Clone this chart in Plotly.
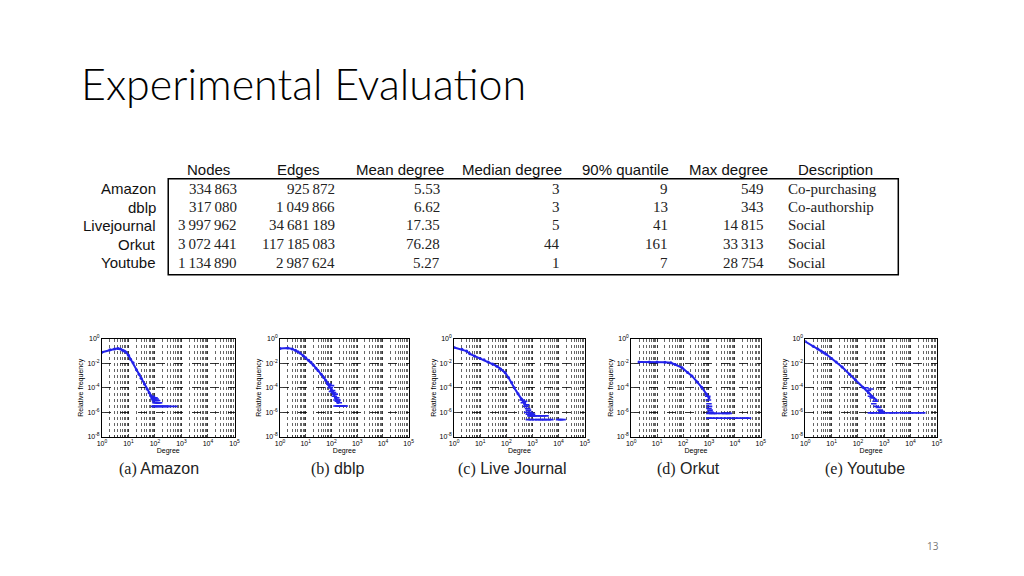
import plotly.graph_objects as go

W, H = 1024, 576

# ---- table data ----
datasets = ["Amazon", "dblp", "Livejournal", "Orkut", "Youtube"]
nodes = [334863, 317080, 3997962, 3072441, 1134890]
edges = [925872, 1049866, 34681189, 117185083, 2987624]
mean_degree = [5.53, 6.62, 17.35, 76.28, 5.27]
median_degree = [3, 3, 5, 44, 1]
quantile_90 = [9, 13, 41, 161, 7]
max_degree = [549, 343, 14815, 33313, 28754]
description = ["Co-purchasing", "Co-authorship", "Social", "Social", "Social"]
headers = ["Nodes", "Edges", "Mean degree", "Median degree", "90% quantile", "Max degree", "Description"]

# ---- degree distributions ----
captions = ["(a)|Amazon", "(b)|dblp", "(c)|Live Journal", "(d)|Orkut", "(e)|Youtube"]

amazon_deg = [1, 2, 3, 4, 5, 6, 7, 8, 10, 12, 15, 20, 25, 30, 40, 50, 60, 70, 80, 90]
amazon_freq = [0.08, 0.13, 0.15, 0.16, 0.15, 0.12, 0.1, 0.085, 0.045, 0.022, 0.011, 3e-3, 1.3e-3, 6e-4, 2e-4, 8e-5, 4e-5, 2.2e-5, 1.4e-5, 9e-6]
amazon_tail_deg = [80, 85, 90, 95, 100, 100, 105, 110, 110, 115, 120, 125, 130, 140, 150, 90, 100, 110, 120, 140, 160, 180, 200, 230, 260, 300, 350, 549]
amazon_tail_freq = [2e-5, 1.5e-5, 1.2e-5, 9e-6, 1.5e-5, 6e-6, 9e-6, 1.2e-5, 6e-6, 9e-6, 6e-6, 9e-6, 6e-6, 6e-6, 6e-6, 3e-6, 3e-6, 3e-6, 3e-6, 3e-6, 3e-6, 3e-6, 3e-6, 3e-6, 3e-6, 3e-6, 3e-6, 3e-6]

dblp_deg = [1, 2, 3, 4, 5, 6, 8, 10, 13, 16, 20, 25, 30, 40, 50, 60, 70, 80, 100, 120, 150, 180]
dblp_freq = [0.16, 0.18, 0.15, 0.115, 0.09, 0.07, 0.042, 0.028, 0.018, 0.012, 7e-3, 4e-3, 2.6e-3, 1.3e-3, 7e-4, 4e-4, 2.5e-4, 1.6e-4, 7e-5, 3.2e-5, 1.5e-5, 6.3e-6]
dblp_tail_deg = [80, 90, 100, 100, 110, 120, 130, 140, 150, 160, 170, 180, 200, 150, 170, 190, 210, 240, 270, 300, 343]
dblp_tail_freq = [2e-4, 1e-4, 1.5e-4, 5e-5, 6e-5, 4e-5, 2e-5, 3e-5, 1e-5, 1.5e-5, 8e-6, 1e-5, 6e-6, 3.2e-6, 3.2e-6, 3.2e-6, 3.2e-6, 3.2e-6, 3.2e-6, 3.2e-6, 3.2e-6]

lj_deg = [1, 2, 3, 4, 6, 10, 14, 20, 30, 43, 60, 90, 120, 160, 200, 280, 380, 500]
lj_freq = [0.2, 0.14, 0.1, 0.06, 0.04, 0.025, 0.02, 0.013, 9e-3, 5.9e-3, 3.5e-3, 1.7e-3, 7e-4, 2.7e-4, 1e-4, 3.2e-5, 1.2e-5, 5e-6]
lj_tail_deg = [400, 450, 500, 550, 600, 650, 700, 800, 900, 1000, 600, 700, 800, 900, 1000, 1200, 1500, 2000, 2500, 3300,
               700, 900, 1200, 1600, 2000, 2500, 3000, 4000, 5000, 10000, 12000, 14815]
lj_tail_freq = [1e-5, 6e-6, 8e-6, 3e-6, 4e-6, 2e-6, 1.5e-6, 1e-6, 8e-7, 7e-7, 1e-6, 7e-7, 5e-7, 5e-7, 5e-7, 5e-7, 5e-7, 5e-7, 5e-7, 5e-7,
                2.5e-7, 2.5e-7, 2.5e-7, 2.5e-7, 2.5e-7, 2.5e-7, 2.5e-7, 2.5e-7, 2.5e-7, 2.5e-7, 2.5e-7, 2.5e-7]

orkut_deg = [2, 5, 10, 20, 34, 50, 91, 150, 220, 350, 525, 800, 1000]
orkut_freq = [0.013, 0.013, 0.013, 0.0125, 0.011, 8e-3, 4.4e-3, 1.8e-3, 9.3e-4, 3e-4, 1.1e-4, 3e-5, 1.5e-5]
orkut_tail_deg = [900, 950, 1000, 1000, 1050, 1100, 1150, 1200, 1000, 1300, 1600, 2000, 3000, 4000, 5000, 6000,
                  1000, 1300, 1800, 2500, 3500, 5000, 7000, 10000, 14000, 20000, 27000, 33313]
orkut_tail_freq = [2e-5, 1e-5, 5e-6, 2e-6, 3e-6, 1.5e-6, 1e-6, 1e-6, 8e-7, 8e-7, 8e-7, 8e-7, 8e-7, 8e-7, 8e-7, 8e-7,
                   3.3e-7, 3.3e-7, 3.3e-7, 3.3e-7, 3.3e-7, 3.3e-7, 3.3e-7, 3.3e-7, 3.3e-7, 3.3e-7, 3.3e-7, 3.3e-7]

yt_deg = [1, 2, 3, 4, 5, 6, 10, 15, 25, 48, 80, 155, 250, 490]
yt_freq = [0.6, 0.25, 0.15, 0.1, 0.075, 0.059, 0.025, 0.013, 5e-3, 1.3e-3, 4.5e-4, 1.1e-4, 4e-5, 1e-5]
yt_tail_deg = [200, 250, 300, 300, 350, 400, 450, 500, 600, 700, 800, 300, 400, 600, 800, 1000, 1500, 2000, 3000, 5000, 7000, 10000, 14000, 20000, 28754]
yt_tail_freq = [1e-4, 6e-5, 2e-5, 8e-5, 1.5e-5, 5e-6, 8e-6, 3e-6, 2.5e-6, 1.5e-6, 1.2e-6, 8.8e-7, 8.8e-7, 8.8e-7, 8.8e-7, 8.8e-7, 8.8e-7, 8.8e-7, 8.8e-7, 8.8e-7, 8.8e-7, 8.8e-7, 8.8e-7, 8.8e-7, 8.8e-7]

curves = [(amazon_deg, amazon_freq, amazon_tail_deg, amazon_tail_freq),
          (dblp_deg, dblp_freq, dblp_tail_deg, dblp_tail_freq),
          (lj_deg, lj_freq, lj_tail_deg, lj_tail_freq),
          (orkut_deg, orkut_freq, orkut_tail_deg, orkut_tail_freq),
          (yt_deg, yt_freq, yt_tail_deg, yt_tail_freq)]

# pixel boxes of the five small plots (left, right), shared top/bottom
plot_x = [(98, 232), (278, 408), (454, 586), (633, 764), (809, 942)]
plot_top, plot_bot = 339, 438
caption_x = [156, 336, 513, 691, 869]

BLUE = "rgb(35,35,235)"
SERIF = "Liberation Serif"
SANS = "Liberation Sans"

minor_ticks = [m * 10 ** k for k in range(5) for m in range(2, 10)]


def px(x):
    return x / W


def py(y):
    return 1 - y / H


def note(x, y, text, font, xanchor="center"):
    return dict(x=px(x), y=py(y), xref="paper", yref="paper", xanchor=xanchor, yanchor="middle",
                showarrow=False, text=text, font=font)


fig = go.Figure()
annotations = []
shapes = []

for i, (d, f, td, tf) in enumerate(curves):
    n = "" if i == 0 else str(i + 1)
    fig.add_trace(go.Scatter(x=d, y=f, mode="lines+markers", line=dict(color=BLUE, width=2),
                             marker=dict(color=BLUE, size=3), xaxis="x" + n, yaxis="y" + n, showlegend=False))
    fig.add_trace(go.Scatter(x=td, y=tf, mode="markers",
                             marker=dict(color=BLUE, size=4, symbol="line-ew-open", line=dict(color=BLUE, width=1.6)),
                             xaxis="x" + n, yaxis="y" + n, showlegend=False))
    x0, x1 = plot_x[i]
    tickf = dict(size=7, color="black", family=SANS)
    fig.layout["xaxis" + n] = dict(
        domain=[px(x0), px(x1)], anchor="y" + n, type="log", range=[0, 5],
        tickvals=[10 ** k for k in range(6)], ticktext=["10<sup>%d</sup>" % k for k in range(6)],
        tickfont=tickf, showline=True, linecolor="black", linewidth=1, mirror=True,
        ticks="inside", ticklen=3, showgrid=True, gridcolor="rgba(0,0,0,0.8)", griddash="dot", gridwidth=0.8,
        minor=dict(tickmode="array", tickvals=minor_ticks, showgrid=True, gridcolor="rgba(0,0,0,0.6)",
                   griddash="dot", gridwidth=0.7, ticks="inside", ticklen=2),
        title=dict(text="Degree", font=dict(size=7, family=SANS, color="black"), standoff=0),
        zeroline=False, fixedrange=True)
    fig.layout["yaxis" + n] = dict(
        domain=[py(plot_bot), py(plot_top)], anchor="x" + n, type="log", range=[-8, 0],
        tickvals=[10 ** k for k in range(-8, 1, 2)], ticktext=["10<sup>%d</sup>" % k for k in range(-8, 1, 2)],
        tickfont=tickf, showline=True, linecolor="black", linewidth=1, mirror=True,
        ticks="inside", ticklen=3, showgrid=True, gridcolor="rgba(0,0,0,0.8)", griddash="dash", gridwidth=0.8,
        title=dict(text="Relative frequency", font=dict(size=7, family=SANS, color="black"), standoff=2),
        zeroline=False, fixedrange=True)
    lab, name = captions[i].split("|")
    annotations.append(note(caption_x[i], 471, '<span style="font-family:%s">%s</span> %s' % (SERIF, lab, name),
                            dict(size=16, family=SANS, color="#222")))

# ---- title and page number ----
annotations.append(note(75, 80, "Experimental Evaluation",
                        dict(size=43, family="Lato", weight=300, color="black"), xanchor="left"))
annotations.append(note(938, 549, "13", dict(size=10, family="Open Sans", color="#777")))

# ---- table ----
header_x = [206, 297, 399, 513, 627, 731, 840]
num_right = [237, 336, 442, 563, 672, 769]
desc_left = 789
row_y = [187, 205.5, 224, 243, 262]
label_right = 155


def grp(v):
    return "{:,}".format(v).replace(",", "\u2009") if v >= 10000 else str(v)


for hx, h in zip(header_x, headers):
    annotations.append(note(hx, 168, h, dict(size=15, family=SANS, color="#111")))

for r, name in enumerate(datasets):
    annotations.append(note(label_right, row_y[r], name, dict(size=15, family=SANS, color="#111"), xanchor="right"))
    cells = [grp(nodes[r]), grp(edges[r]), "%.2f" % mean_degree[r], str(median_degree[r]),
             str(quantile_90[r]), grp(max_degree[r])]
    for c, txt in enumerate(cells):
        annotations.append(note(num_right[c], row_y[r], txt, dict(size=15, family=SERIF, color="#222"), xanchor="right"))
    annotations.append(note(desc_left, row_y[r], description[r], dict(size=15, family=SERIF, color="#222"), xanchor="left"))

shapes.append(dict(type="rect", xref="paper", yref="paper", x0=px(165), x1=px(903), y0=py(274), y1=py(177),
                   line=dict(color="black", width=1.5)))

fig.update_layout(width=W, height=H, margin=dict(l=0, r=0, t=0, b=0), paper_bgcolor="white",
                  plot_bgcolor="white", annotations=annotations, shapes=shapes, showlegend=False)

fig.write_html("out.html", config={"displayModeBar": False}, post_script="document.body.style.margin='0';")
